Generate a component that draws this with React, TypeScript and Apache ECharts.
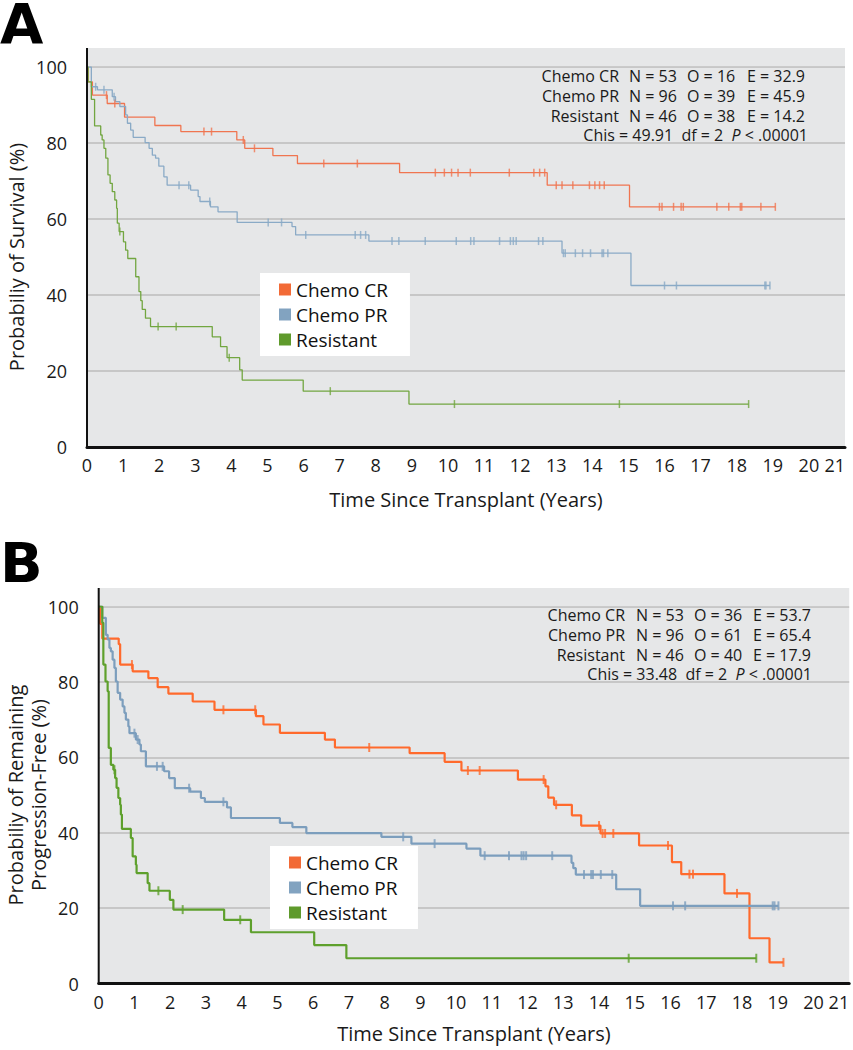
import React, { useEffect, useRef } from "react";
import * as echarts from "echarts";

// ---------- data ----------
const groups = ["Chemo CR", "Chemo PR", "Resistant"];

// Panel A: overall survival (time in years, survival %)
const osCrSteps = [[0,100],[0.03,96.1],[0.15,92.6],[0.56,90.4],[1.04,86.8],[1.88,84.6],[2.6,83.0],[4.15,80.8],[4.37,78.6],[5.15,76.7],[5.83,74.6],[8.66,72.2],[12.75,68.9],[15.03,63.2]];
const osCrCensor = [0.54,0.77,3.24,3.45,4.33,4.64,6.56,7.49,9.65,9.9,10.1,10.28,10.62,11.7,12.38,12.54,12.68,13.0,13.16,13.46,13.92,14.07,14.2,14.33,15.86,15.93,16.25,16.46,16.52,17.45,17.78,18.1,18.14,18.67,19.07];
const osPrSteps = [[0,100],[0.12,94.8],[0.29,94.0],[0.7,92.2],[0.79,90.9],[0.91,89.6],[1.07,87.4],[1.12,85.2],[1.21,83.4],[1.28,81.5],[1.61,80.1],[1.72,78.6],[1.81,76.8],[1.9,76.0],[1.99,73.9],[2.13,71.1],[2.22,68.9],[2.87,67.6],[3.08,65.9],[3.13,64.6],[3.42,63.2],[3.63,61.9],[4.16,59.1],[5.68,58.0],[5.78,55.8],[7.81,54.2],[13.16,51.0],[15.07,42.5]];
const osPrCensor = [0.24,0.47,0.75,2.55,2.82,3.4,5.02,5.39,6.06,7.43,7.58,7.72,8.45,8.64,9.37,10.23,10.63,10.72,11.43,11.73,11.81,11.89,12.51,12.63,13.2,13.25,13.53,13.73,13.95,14.27,14.31,14.43,16.0,16.33,18.78,18.81,18.92];
const osResSteps = [[0,100],[0.03,96.1],[0.12,91.5],[0.21,84.5],[0.38,82.1],[0.42,80.8],[0.47,78.6],[0.52,76.0],[0.58,71.6],[0.64,69.4],[0.7,67.2],[0.77,65.0],[0.82,62.8],[0.84,58.9],[0.89,56.7],[1.01,54.0],[1.07,51.8],[1.13,49.6],[1.35,44.8],[1.44,40.9],[1.49,38.5],[1.53,36.2],[1.62,33.9],[1.76,31.7],[3.47,29.0],[3.7,26.4],[3.88,23.5],[4.23,20.3],[4.3,17.6],[5.99,14.7],[8.92,11.3]];
const osResCensor = [0.91,1.97,2.47,3.94,6.74,10.18,14.75,18.33];

// Panel B: progression-free
const pfsCrSteps = [[0,100],[0.04,95.4],[0.1,91.5],[0.56,90.0],[0.6,84.6],[0.95,82.8],[1.39,81.0],[1.65,78.6],[1.95,76.9],[2.63,74.8],[3.24,72.6],[4.4,70.9],[4.61,68.7],[5.07,66.5],[6.33,64.7],[6.61,62.6],[8.7,61.1],[9.68,58.8],[10.15,56.5],[11.73,54.1],[12.5,52.3],[12.58,49.3],[12.74,47.4],[13.24,44.6],[13.5,41.9],[14.04,39.8],[15.12,36.6],[16.04,32.2],[16.3,29.0],[17.51,23.9],[18.21,12.0],[18.77,5.6]];
const pfsCrCensor = [0.93,3.49,4.38,7.57,10.33,10.66,12.45,12.8,14.0,14.1,14.17,14.4,15.93,16.53,16.63,17.86,19.16];
const pfsPrSteps = [[0,100],[0.1,97.0],[0.2,92.5],[0.25,91.3],[0.3,89.0],[0.34,88.1],[0.39,85.9],[0.44,83.7],[0.48,80.1],[0.53,77.1],[0.6,75.3],[0.67,73.5],[0.72,71.8],[0.76,70.0],[0.83,68.2],[0.86,66.4],[1.04,64.7],[1.14,63.4],[1.18,61.6],[1.32,57.6],[1.83,56.3],[1.97,54.5],[2.13,51.8],[2.56,50.9],[2.86,49.2],[2.97,48.2],[3.59,46.7],[3.7,43.9],[5.07,42.6],[5.42,41.5],[5.81,39.9],[7.91,38.9],[8.75,37.1],[10.29,35.8],[10.68,33.9],[13.23,32.0],[13.28,30.6],[13.35,28.9],[14.48,25.0],[15.15,20.6]];
const pfsPrCensor = [1.0,1.09,1.63,1.79,2.53,3.49,8.52,9.4,10.8,11.48,11.83,11.89,11.96,12.69,13.58,13.78,13.83,14.05,14.37,16.07,16.41,18.86,18.91,19.02];
const pfsResSteps = [[0,100],[0.1,95.7],[0.13,84.6],[0.19,80.1],[0.25,77.5],[0.28,62.5],[0.34,58.0],[0.41,56.7],[0.46,54.5],[0.5,51.9],[0.55,49.2],[0.6,47.4],[0.62,44.8],[0.65,41.0],[0.9,38.6],[0.95,33.7],[1.04,31.5],[1.06,29.3],[1.37,26.6],[1.42,24.6],[1.99,22.2],[2.09,19.6],[3.51,16.9],[4.26,13.6],[6.03,10.2],[6.93,6.7]];
const pfsResCensor = [0.44,1.67,2.35,3.96,14.83,18.4];

const osStats = [
  ["Chemo CR", "N = 53", "O = 16", "E = 32.9"],
  ["Chemo PR", "N = 96", "O = 39", "E = 45.9"],
  ["Resistant", "N = 46", "O = 38", "E = 14.2"],
];
const osTest = ["49.91", "2", ".00001"];
const pfsStats = [
  ["Chemo CR", "N = 53", "O = 36", "E = 53.7"],
  ["Chemo PR", "N = 96", "O = 61", "E = 65.4"],
  ["Resistant", "N = 46", "O = 40", "E = 17.9"],
];
const pfsTest = ["33.48", "2", ".00001"];

const xTitle = "Time Since Transplant (Years)";
const osYTitle = "Probabiliy of Survival (%)";
const pfsYTitle = "Probabiliy of Remaining\nProgression-Free (%)";

// ---------- helpers ----------
function stepValue(steps: number[][], t: number) {
  let v = steps[0][1];
  for (const [x, y] of steps) {
    if (x <= t) v = y;
    else break;
  }
  return v;
}
function lineData(steps: number[][], censor: number[]) {
  const end = Math.max(...censor);
  const last = steps[steps.length - 1];
  return end > last[0] ? [...steps, [end, last[1]]] : steps;
}
function censorData(steps: number[][], censor: number[]) {
  return censor.map((t) => [t, stepValue(steps, t)]);
}

const FONT = "'Open Sans', 'Noto Sans', sans-serif";
const TICKFONT = "'Open Sans', sans-serif";
const legendColors = ["#F26A36", "#82A3C0", "#5F9A2C"];

const panels = [
  {
    grid: { left: 87, top: 67, width: 758, height: 380 },
    bgTop: 48,
    curves: [[osCrSteps, osCrCensor], [osPrSteps, osPrCensor], [osResSteps, osResCensor]],
    colors: ["#F07550", "#8AAAC6", "#72A640"],
    lineWidth: 1.3,
    tick: [1.5, 8],
    yTitle: osYTitle,
    yTitlePos: [16, 257],
    xGap: 42,
    legend: { left: 260, top: 273, padding: [7, 22, 7, 19] },
    stats: osStats,
    test: osTest,
    statX: [619, 629, 687, 747, 808],
    statY: [76, 96, 116, 135],
    letter: { text: "A", y: 2 },
  },
  {
    grid: { left: 98.7, top: 606.5, width: 750.5, height: 377 },
    bgTop: 588,
    curves: [[pfsCrSteps, pfsCrCensor], [pfsPrSteps, pfsPrCensor], [pfsResSteps, pfsResCensor]],
    colors: ["#FF6A2C", "#7C9EBD", "#5EA02C"],
    lineWidth: 2.2,
    tick: [2, 9],
    yTitle: pfsYTitle,
    yTitlePos: [27, 795],
    xGap: 40,
    legend: { left: 270, top: 846, padding: [7, 20, 7, 19] },
    stats: pfsStats,
    test: pfsTest,
    statX: [625, 636, 694, 753, 812],
    statY: [615, 635, 655, 674],
    letter: { text: "B", y: 541 },
  },
];

function buildOption() {
  const grid: any[] = [];
  const xAxis: any[] = [];
  const yAxis: any[] = [];
  const series: any[] = [];
  const legend: any[] = [];
  const graphic: any[] = [];

  panels.forEach((p, i) => {
    grid.push({
      ...p.grid,
      show: true,
      backgroundColor: "#E6E7E8",
      borderWidth: 0,
      containLabel: false,
      outerBoundsMode: "none",
    });
    xAxis.push({
      gridIndex: i,
      type: "value",
      min: 0,
      max: 21,
      interval: 1,
      axisLine: { show: true, onZero: false, lineStyle: { color: "#111", width: 3 } },
      axisTick: { show: false },
      splitLine: { show: false },
      axisLabel: { fontSize: 18, fontFamily: TICKFONT, color: "#1a1a1a", margin: 9, alignMaxLabel: "right" },
      name: xTitle,
      nameLocation: "middle",
      nameGap: p.xGap,
      nameTextStyle: { fontSize: 20, fontFamily: FONT, color: "#1a1a1a" },
    });
    yAxis.push({
      gridIndex: i,
      type: "value",
      min: 0,
      max: 100,
      interval: 20,
      axisLine: { show: false },
      axisTick: { show: false },
      splitLine: { show: true, lineStyle: { color: "#BCBCBC", width: 1.5 } },
      axisLabel: { fontSize: 18, fontFamily: TICKFONT, color: "#1a1a1a", margin: 20 },
    });

    p.curves.forEach(([steps, censor], g) => {
      series.push({
        name: groups[g],
        type: "line",
        xAxisIndex: i,
        yAxisIndex: i,
        step: "end",
        showSymbol: false,
        symbol: "none",
        data: lineData(steps as number[][], censor as number[]),
        lineStyle: { color: p.colors[g], width: p.lineWidth },
        itemStyle: { color: p.colors[g] },
        z: 3,
      });
      series.push({
        name: groups[g] + " censored " + i,
        type: "scatter",
        xAxisIndex: i,
        yAxisIndex: i,
        symbol: "rect",
        symbolSize: p.tick,
        data: censorData(steps as number[][], censor as number[]),
        itemStyle: { color: p.colors[g] },
        z: 4,
      });
    });

    legend.push({
      left: p.legend.left,
      top: p.legend.top,
      orient: "vertical",
      backgroundColor: "#ffffff",
      padding: p.legend.padding,
      itemGap: 6,
      itemWidth: 12,
      itemHeight: 12,
      icon: "rect",
      selectedMode: false,
      textStyle: { fontSize: 19, fontFamily: FONT, color: "#111" },
      data: groups.map((g, k) => ({ name: g, icon: "rect", itemStyle: { color: legendColors[k] } })),
      z: 6,
    });

    // gray strip above 100 line
    graphic.push({
      type: "rect",
      z: 0,
      shape: { x: p.grid.left, y: p.bgTop, width: p.grid.width, height: p.grid.top - p.bgTop - 0.6 },
      style: { fill: "#E6E7E8" },
    });
    // left axis line
    graphic.push({
      type: "line",
      z: 10,
      shape: { x1: p.grid.left, y1: p.bgTop, x2: p.grid.left, y2: p.grid.top + p.grid.height },
      style: { stroke: "#111", lineWidth: 2 },
    });
    // y-axis title (rotated)
    graphic.push({
      type: "text",
      z: 10,
      x: p.yTitlePos[0],
      y: p.yTitlePos[1],
      rotation: Math.PI / 2,
      style: {
        text: p.yTitle,
        fontSize: 20,
        lineHeight: 23,
        fontFamily: FONT,
        fill: "#1a1a1a",
        align: "center",
        verticalAlign: "middle",
      },
    });
    // panel letter
    graphic.push({
      type: "text",
      z: 10,
      x: 0,
      y: p.letter.y + 21,
      style: {
        text: p.letter.text,
        fontSize: 56,
        lineHeight: 44,
        fontWeight: 900,
        fontFamily: "'DejaVu Sans', sans-serif",
        fill: "#000",
        verticalAlign: "middle",
      },
    });
    // stats annotation
    const txt = { fontSize: 16, fontFamily: FONT, fill: "#1a1a1a", verticalAlign: "middle", lineHeight: 17 };
    p.stats.forEach((row, r) => {
      const y = p.statY[r];
      graphic.push({
        type: "text", z: 10, x: p.statX[0], y,
        style: { ...txt, text: row[0], align: "right" },
      });
      [1, 2, 3].forEach((c) => {
        graphic.push({
          type: "text", z: 10, x: p.statX[c], y,
          style: { ...txt, text: row[c], align: "left" },
        });
      });
    });
    graphic.push({
      type: "text", z: 10, x: p.statX[4], y: p.statY[3],
      style: {
        ...txt,
        text: `Chis = ${p.test[0]}  df = ${p.test[1]}  {i|P} < ${p.test[2]}`,
        align: "right",
        rich: { i: { fontStyle: "italic", fontSize: 16, fontFamily: FONT, fill: "#1a1a1a", lineHeight: 17 } },
      },
    });
  });

  return { animation: false, grid, xAxis, yAxis, series, legend, graphic };
}

export default function App() {
  const ref = useRef<HTMLDivElement>(null);
  useEffect(() => {
    if (!ref.current) return;
    const chart = echarts.init(ref.current, null, { renderer: "svg" });
    chart.setOption(buildOption() as any);
    return () => chart.dispose();
  }, []);
  return (
    <div
      ref={ref}
      style={{ position: "absolute", left: 0, top: 0, width: 853, height: 1050, background: "#fff" }}
    />
  );
}
